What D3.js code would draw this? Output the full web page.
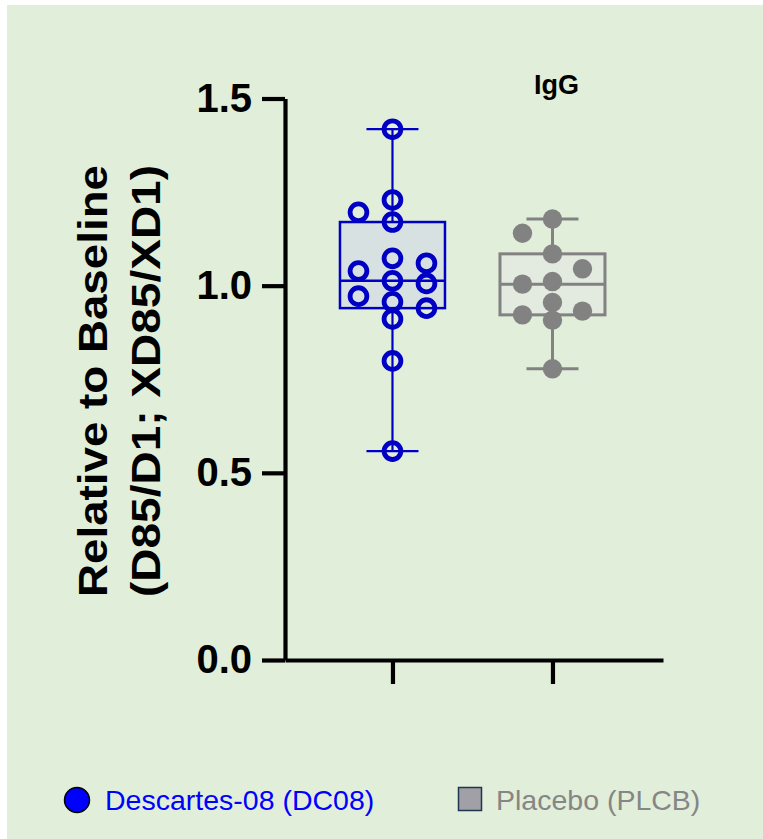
<!DOCTYPE html>
<html>
<head>
<meta charset="utf-8">
<script src="https://cdn.jsdelivr.net/npm/d3@7"></script>
<style>
  html, body { margin: 0; padding: 0; background: #ffffff; }
  svg { display: block; }
</style>
</head>
<body>
<div id="chart"></div>
<script>
// ---------------- data ----------------
const title = "IgG";
const yTitleLines = ["Relative to Baseline", "(D85/D1; XD85/XD1)"];
const groups = ["DC08", "PLCB"];
const legendLabels = ["Descartes-08 (DC08)", "Placebo (PLCB)"];
const dc08Values = [1.418, 1.229, 1.196, 1.170, 1.073, 1.060, 1.039, 1.013, 1.006, 0.972, 0.957, 0.940, 0.911, 0.799, 0.558];
const plcbValues = [1.178, 1.140, 1.085, 1.045, 1.011, 1.004, 0.955, 0.932, 0.922, 0.908, 0.778];
const yTicks = [0, 0.5, 1.0, 1.5];
const yDomain = [0, 1.5];

// ---------------- layout / style ----------------
const W = 763, H = 839;
const margin = { left: 285, right: 100, top: 98.5, bottom: 179 };
const styles = {
  DC08: { stroke: "#0000c4", boxFill: "#d7e1e2", boxStroke: 2.5, whiskerStroke: 2.2, r: 8.4, ptStroke: 4.8, fill: "none", lane: 34 },
  PLCB: { stroke: "#828282", boxFill: "#e3ebe0", boxStroke: 3, whiskerStroke: 3, r: 9.7, ptStroke: 0, fill: "#828282", lane: 30 }
};

const svg = d3.select("#chart").append("svg").attr("width", W).attr("height", H);
svg.append("rect").attr("x", 7).attr("y", 5).attr("width", W - 7).attr("height", H - 5).attr("fill", "#e1eed9");

const y = d3.scaleLinear().domain(yDomain).range([H - margin.bottom, margin.top]);
const x = d3.scalePoint().domain(groups).range([margin.left, W - margin.right]).padding(0.68125).align(0.493);

// quartiles, (n+1)p method
function quant(sorted, p) {
  const n = sorted.length, pos = (n + 1) * p - 1;
  const lo = Math.max(0, Math.floor(pos)), hi = Math.min(n - 1, Math.ceil(pos));
  return sorted[lo] + (sorted[hi] - sorted[lo]) * (pos - lo);
}
function stats(vals) {
  const s = vals.slice().sort(d3.ascending);
  return { min: s[0], q1: quant(s, 0.25), med: quant(s, 0.5), q3: quant(s, 0.75), max: s[s.length - 1] };
}

// simple swarm: descending order, center first, alternate sides
function swarm(vals, thresholdPx) {
  const order = vals.map((v, i) => i).sort((a, b) => vals[b] - vals[a]);
  const placed = [];
  const lanes = new Array(vals.length);
  let toggle = -1;
  order.forEach(i => {
    const py = y(vals[i]);
    const free = l => !placed.some(p => p.lane === l && Math.abs(p.py - py) < thresholdPx);
    let lane = 0;
    if (!free(0)) {
      let found = false;
      for (let k = 1; k < 6 && !found; k++) {
        const cands = [toggle * k, -toggle * k];
        for (const c of cands) {
          if (free(c)) { lane = c; found = true; break; }
        }
      }
      toggle = -toggle;
    }
    lanes[i] = lane;
    placed.push({ lane, py });
  });
  return lanes;
}

const data = [
  { key: "DC08", values: dc08Values },
  { key: "PLCB", values: plcbValues }
];

const boxHalf = 52.5, capHalf = 26;

data.forEach(g => {
  const st = stats(g.values), s = styles[g.key], cx = x(g.key);
  const gg = svg.append("g");
  // whiskers
  gg.append("line").attr("x1", cx).attr("x2", cx).attr("y1", y(st.max)).attr("y2", y(st.q3))
    .attr("stroke", s.stroke).attr("stroke-width", s.whiskerStroke);
  gg.append("line").attr("x1", cx).attr("x2", cx).attr("y1", y(st.q1)).attr("y2", y(st.min))
    .attr("stroke", s.stroke).attr("stroke-width", s.whiskerStroke);
  [st.max, st.min].forEach(v => {
    gg.append("line").attr("x1", cx - capHalf).attr("x2", cx + capHalf).attr("y1", y(v)).attr("y2", y(v))
      .attr("stroke", s.stroke).attr("stroke-width", s.whiskerStroke);
  });
  // box
  gg.append("rect").attr("x", cx - boxHalf).attr("width", boxHalf * 2)
    .attr("y", y(st.q3)).attr("height", y(st.q1) - y(st.q3))
    .attr("fill", s.boxFill).attr("stroke", s.stroke).attr("stroke-width", s.boxStroke);
  gg.append("line").attr("x1", cx - boxHalf).attr("x2", cx + boxHalf).attr("y1", y(st.med)).attr("y2", y(st.med))
    .attr("stroke", s.stroke).attr("stroke-width", s.boxStroke);
  // points
  const lanes = swarm(g.values, 16);
  gg.selectAll("circle.pt").data(g.values).join("circle").attr("class", "pt")
    .attr("cx", (d, i) => cx + lanes[i] * s.lane)
    .attr("cy", d => y(d))
    .attr("r", s.r)
    .attr("fill", s.fill)
    .attr("stroke", s.ptStroke ? s.stroke : "none")
    .attr("stroke-width", s.ptStroke);
});

// axes
const yAxis = d3.axisLeft(y).tickValues(yTicks).tickFormat(d3.format(".1f")).tickSize(23).tickSizeOuter(0).tickPadding(10);
const yG = svg.append("g").attr("transform", `translate(${margin.left},0)`).call(yAxis);
yG.select(".domain").attr("stroke", "#000").attr("stroke-width", 4.2);
yG.selectAll(".tick line").attr("stroke", "#000").attr("stroke-width", 4.2);
yG.selectAll(".tick text").attr("fill", "#000")
  .style("font-family", "'Liberation Sans', Arial, sans-serif").style("font-weight", "bold").style("font-size", "40px");

const xAxis = d3.axisBottom(x).tickSize(24).tickSizeOuter(0).tickFormat("");
const xG = svg.append("g").attr("transform", `translate(0,${y(0)})`).call(xAxis);
xG.select(".domain").attr("stroke", "#000").attr("stroke-width", 4.2);
xG.selectAll(".tick line").attr("stroke", "#000").attr("stroke-width", 4.2);

// title
svg.append("text").attr("x", 534).attr("y", 94).text(title)
  .style("font-family", "'Liberation Sans', Arial, sans-serif").style("font-weight", "bold").style("font-size", "27px").attr("fill", "#000");

// y-axis title
const yt = svg.append("g").attr("transform", "translate(0,381) rotate(-90)");
[107, 160].forEach((bx, i) => {
  yt.append("text").attr("x", 0).attr("y", bx).attr("text-anchor", "middle")
    .attr("textLength", 432).attr("lengthAdjust", "spacingAndGlyphs")
    .style("font-family", "'Liberation Sans', Arial, sans-serif").style("font-weight", "bold").style("font-size", "40px")
    .attr("fill", "#000").text(yTitleLines[i]);
});

// legend
const lg = svg.append("g");
lg.append("circle").attr("cx", 77).attr("cy", 800).attr("r", 12.5).attr("fill", "#0000ff").attr("stroke", "#000").attr("stroke-width", 1.5);
lg.append("text").attr("x", 105).attr("y", 809.5).text(legendLabels[0]).attr("fill", "#0000ff")
  .style("font-family", "'Liberation Sans', Arial, sans-serif").style("font-size", "28.5px");
lg.append("rect").attr("x", 458.5).attr("y", 787.5).attr("width", 23).attr("height", 23)
  .attr("fill", "#a0a0a6").attr("stroke", "#1f3550").attr("stroke-width", 1.5);
lg.append("text").attr("x", 496).attr("y", 809.5).text(legendLabels[1]).attr("fill", "#868686")
  .style("font-family", "'Liberation Sans', Arial, sans-serif").style("font-size", "28.5px");
</script>
</body>
</html>
